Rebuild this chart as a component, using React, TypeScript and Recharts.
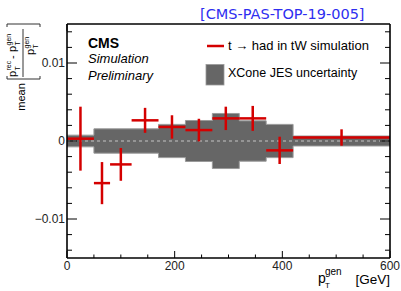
import React from "react";
import { ComposedChart, Area, Scatter, ErrorBar, XAxis, YAxis, ReferenceLine } from "recharts";

// JES uncertainty band: bin edges and half-widths
const bandEdges = [0, 50, 170, 220, 270, 320, 370, 420, 600];
const bandHalf = [0.00075, 0.00156, 0.00213, 0.00263, 0.00353, 0.00259, 0.00213, 0.00064];

// t -> had points
const binEdges = [0, 50, 80, 120, 170, 220, 270, 320, 370, 420, 600];
const binCenters = [25, 65, 100, 145, 195, 245, 295, 345, 395, 510];
const meanValues = [0.0003, -0.0054, -0.003, 0.00265, 0.0018, 0.0014, 0.0029, 0.0029, -0.0012, 0.00045];
const meanErrors = [0.0041, 0.0027, 0.0021, 0.0016, 0.0015, 0.00145, 0.0015, 0.0016, 0.00175, 0.00105];

const xTicks = [0, 50, 100, 150, 200, 250, 300, 350, 400, 450, 500, 550, 600];
const xMajor = [0, 200, 400, 600];
const yTicks = [
  -0.014, -0.012, -0.01, -0.008, -0.006, -0.004, -0.002, 0,
  0.002, 0.004, 0.006, 0.008, 0.01, 0.012, 0.014,
];
const yMajor = [-0.01, 0, 0.01];
const yLabels = ["\u22120.01", "0", "0.01"];

const RED = "#d40000";
const FONT = "'Liberation Sans', Arial, sans-serif";

const bandData = bandEdges.map((x, i) => {
  const h = bandHalf[Math.min(i, bandHalf.length - 1)];
  return { x, band: [-h, h] };
});

const pointData = binCenters.map((x, i) => ({
  x,
  v: meanValues[i],
  xe: [x - binEdges[i], binEdges[i + 1] - x],
  ye: meanErrors[i],
}));

const majorY = (v: number) => yMajor.findIndex((m) => Math.abs(m - v) < 1e-9);

const BottomTick = (props: any) => {
  const { x, y, payload } = props;
  const major = xMajor.includes(payload.value);
  return (
    <g>
      <line x1={x} x2={x} y1={y} y2={y - (major ? 7 : 3.5)} stroke="#000" strokeWidth={1} />
      {major && (
        <text x={x} y={y + 12} textAnchor="middle" fontSize={12} fontFamily={FONT} fill="#222">
          {payload.value}
        </text>
      )}
    </g>
  );
};

const TopTick = (props: any) => {
  const { x, y, payload } = props;
  const major = xMajor.includes(payload.value);
  return <line x1={x} x2={x} y1={y} y2={y + (major ? 7 : 3.5)} stroke="#000" strokeWidth={1} />;
};

const LeftTick = (props: any) => {
  const { x, y, payload } = props;
  const m = majorY(payload.value);
  return (
    <g>
      <line x1={x} x2={x + (m >= 0 ? 10 : 5)} y1={y} y2={y} stroke="#000" strokeWidth={1} />
      {m >= 0 && (
        <text x={x - 2} y={y + 4} textAnchor="end" fontSize={12} fontFamily={FONT} fill="#222">
          {yLabels[m]}
        </text>
      )}
    </g>
  );
};

const RightTick = (props: any) => {
  const { x, y, payload } = props;
  const m = majorY(payload.value);
  return <line x1={x} x2={x - (m >= 0 ? 10 : 5)} y1={y} y2={y} stroke="#000" strokeWidth={1} />;
};

const NoDot = () => <g />;

const axisLine = { stroke: "#000", strokeWidth: 1.6 };

export default function App() {
  return (
    <div style={{ position: "absolute", left: 0, top: 0, width: 401, height: 291, background: "#fff" }}>
      <ComposedChart width={401} height={291} data={bandData} margin={{ top: 0, right: 0, bottom: 0, left: 0 }}>
        <XAxis
          dataKey="x"
          type="number"
          domain={[0, 600]}
          ticks={xTicks}
          interval={0}
          tickSize={0}
          tickMargin={0}
          tick={BottomTick}
          axisLine={axisLine}
          height={33}
          allowDataOverflow
        />
        <XAxis
          xAxisId="top"
          orientation="top"
          type="number"
          domain={[0, 600]}
          ticks={xTicks}
          interval={0}
          tickSize={0}
          tickMargin={0}
          tick={TopTick}
          axisLine={axisLine}
          height={24}
          allowDataOverflow
        />
        <YAxis
          type="number"
          domain={[-0.015, 0.015]}
          ticks={yTicks}
          interval={0}
          tickSize={0}
          tickMargin={0}
          tick={LeftTick}
          axisLine={axisLine}
          width={67}
          allowDataOverflow
        />
        <YAxis
          yAxisId="right"
          orientation="right"
          type="number"
          domain={[-0.015, 0.015]}
          ticks={yTicks}
          interval={0}
          tickSize={0}
          tickMargin={0}
          tick={RightTick}
          axisLine={axisLine}
          width={11}
          allowDataOverflow
        />
        <Area
          dataKey="band"
          type="stepAfter"
          fill="#666666"
          fillOpacity={1}
          stroke="#9a9a9a"
          strokeWidth={1}
          dot={false}
          activeDot={false}
          isAnimationActive={false}
        />
        <ReferenceLine y={0} stroke="#c4c4c4" strokeDasharray="3 3" strokeWidth={1} />
        <Scatter data={pointData} dataKey="v" fill={RED} shape={NoDot} isAnimationActive={false}>
          <ErrorBar dataKey="xe" direction="x" width={0} stroke={RED} strokeWidth={2.5} isAnimationActive={false} />
          <ErrorBar dataKey="ye" direction="y" width={0} stroke={RED} strokeWidth={2.5} isAnimationActive={false} />
        </Scatter>
      </ComposedChart>

      <svg width={401} height={291} style={{ position: "absolute", left: 0, top: 0, pointerEvents: "none" }}>
        <text x={200} y={19} fontFamily="'DejaVu Sans', sans-serif" fontSize={14.5} fill="#2e2ef0">
          [CMS-PAS-TOP-19-005]
        </text>

        <text x={88} y={48} fontFamily={FONT} fontSize={14} fontWeight="bold" fill="#000">CMS</text>
        <text x={88} y={63} fontFamily={FONT} fontSize={13} fontStyle="italic" fill="#000">Simulation</text>
        <text x={88} y={80} fontFamily={FONT} fontSize={13} fontStyle="italic" fill="#000">Preliminary</text>

        <line x1={207} x2={224} y1={46} y2={46} stroke={RED} strokeWidth={2.5} />
        <text x={228} y={50} fontFamily={FONT} fontSize={13} fill="#000">t → had in tW simulation</text>
        <rect x={206} y={64.5} width={18} height={20.5} fill="#666666" stroke="#9a9a9a" strokeWidth={0.8} />
        <text x={228} y={77} fontFamily={FONT} fontSize={12.5} fill="#000">XCone JES uncertainty</text>

        <text x={318} y={283} fontFamily={FONT} fontSize={14} fill="#000">p</text>
        <text x={325} y={275} fontFamily={FONT} fontSize={10} fill="#000">gen</text>
        <text x={325} y={288} fontFamily={FONT} fontSize={8} fill="#000">T</text>
        <text x={390} y={284} textAnchor="end" fontFamily={FONT} fontSize={13.5} fill="#000">[GeV]</text>

        {/* y axis title, rotated */}
        <text transform="translate(25,97) rotate(-90)" textAnchor="middle" fontFamily={FONT} fontSize={11} fill="#000">
          mean
        </text>
        <path d="M7,76 L7,79 L40,79 L40,76" fill="none" stroke="#333" strokeWidth={1} />
        <path d="M7,27 L7,24 L40,24 L40,27" fill="none" stroke="#333" strokeWidth={1} />
        <g transform="translate(0,80) rotate(-90)" fontFamily={FONT} fill="#000">
          <text x={3} y={16} fontSize={11}>p</text>
          <text x={9.5} y={11} fontSize={7}>rec</text>
          <text x={9.5} y={19.5} fontSize={7}>T</text>
          <text x={21} y={16} fontSize={11}>-</text>
          <text x={28} y={16} fontSize={11}>p</text>
          <text x={34.5} y={11} fontSize={7}>gen</text>
          <text x={34.5} y={19.5} fontSize={7}>T</text>
          <text x={25} y={34} fontSize={11}>p</text>
          <text x={31.5} y={29} fontSize={7}>gen</text>
          <text x={31.5} y={37.5} fontSize={7}>T</text>
        </g>
        <line x1={23} x2={23} y1={29} y2={77} stroke="#000" strokeWidth={0.8} />
      </svg>
    </div>
  );
}
